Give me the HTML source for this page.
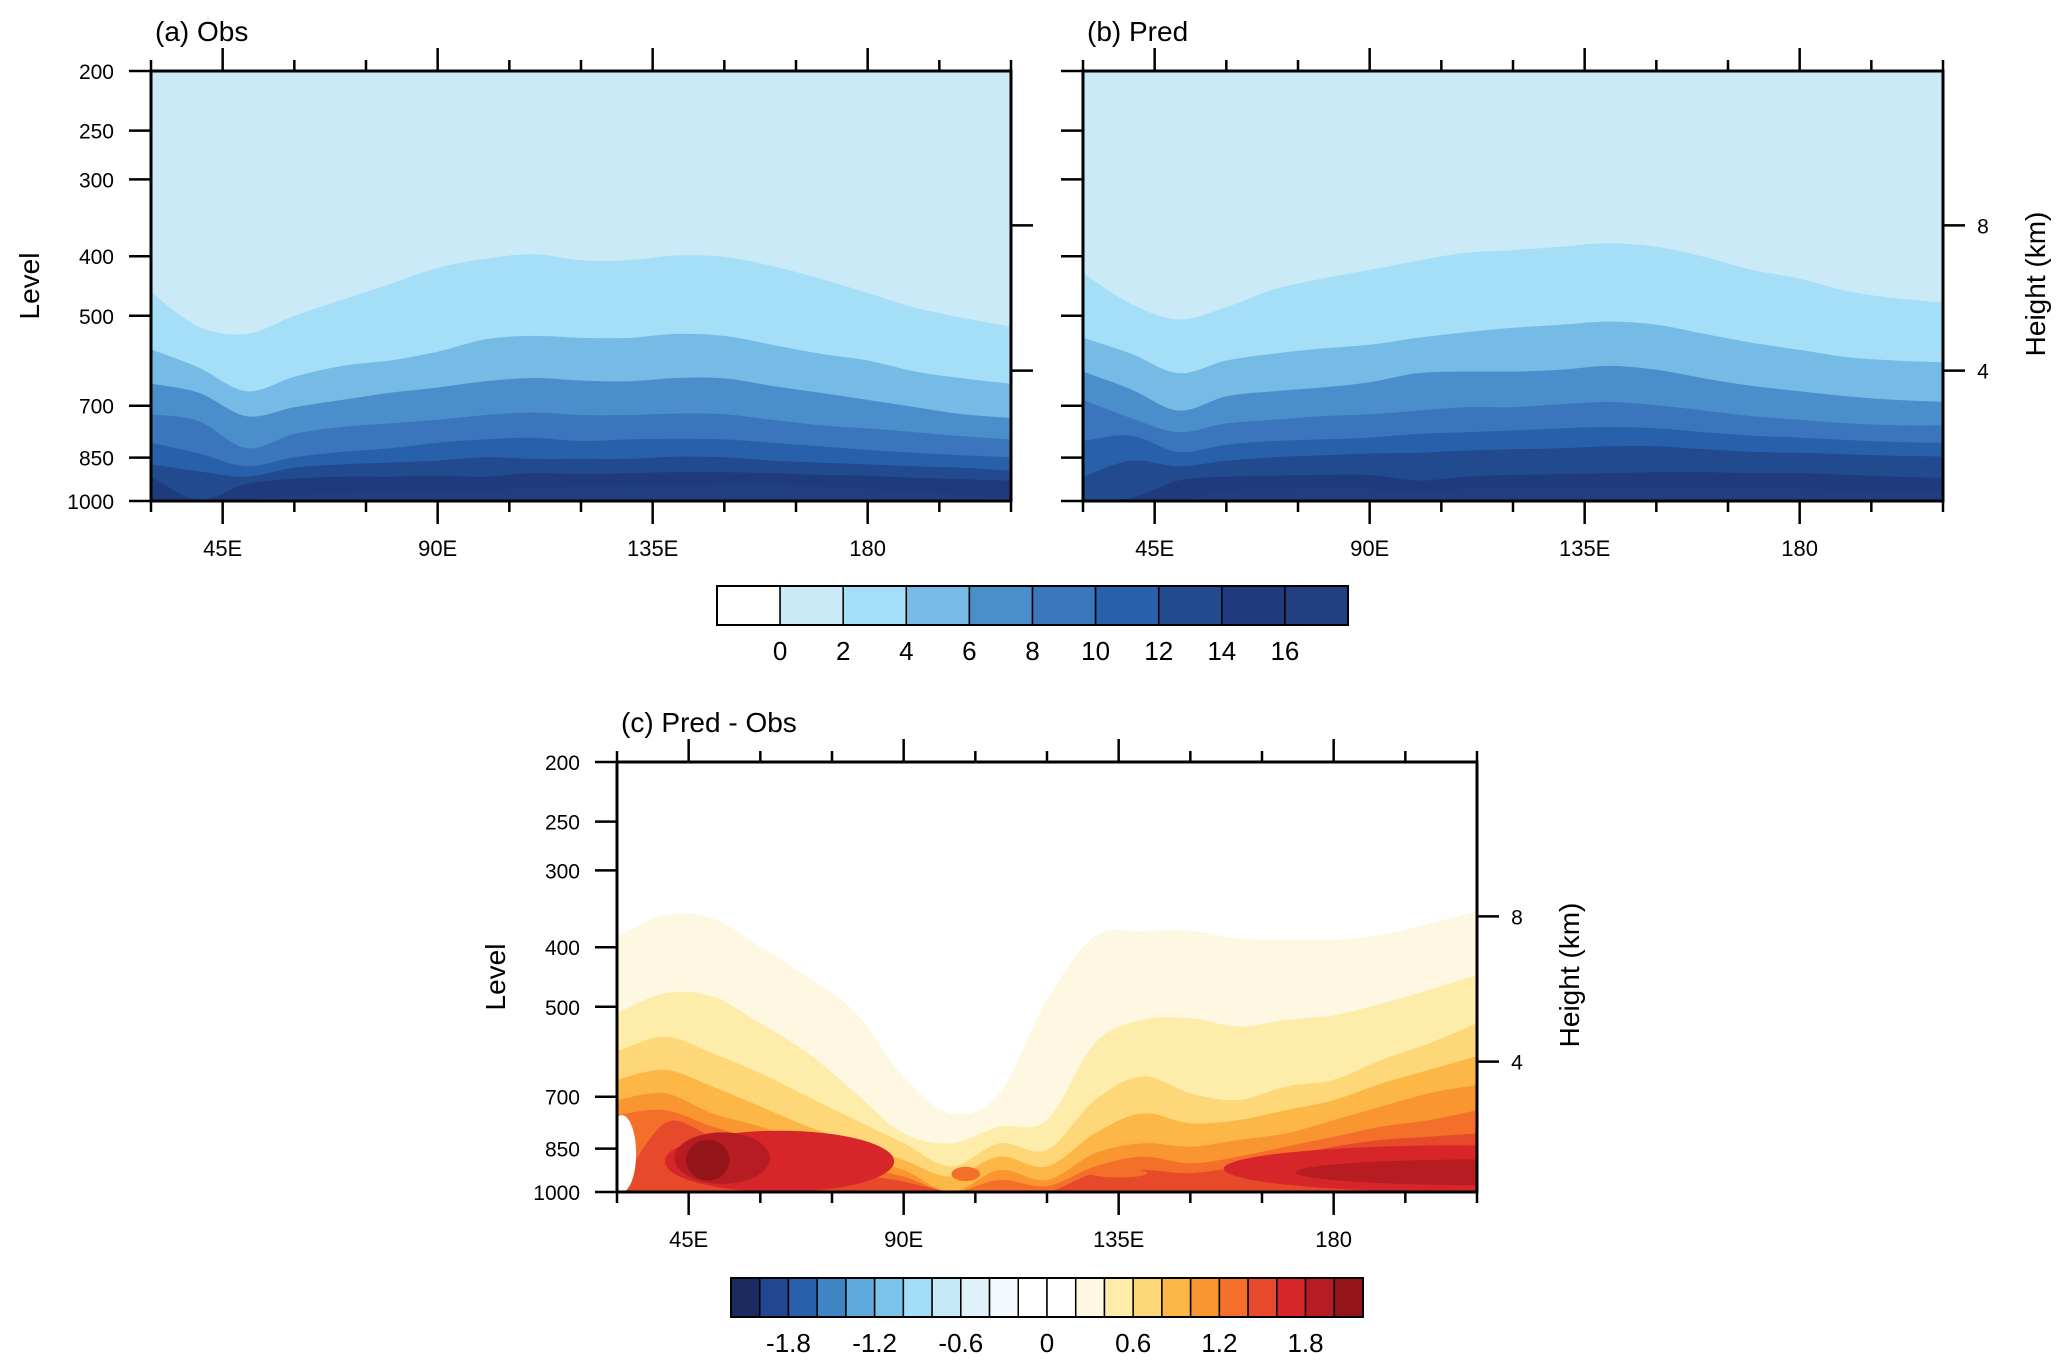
<!DOCTYPE html>
<html><head><meta charset="utf-8"><style>
html,body{margin:0;padding:0;background:#fff;}
svg{display:block;font-family:"Liberation Sans",sans-serif;}
</style></head><body>
<svg id="fig" width="2067" height="1368" viewBox="0 0 2067 1368" xmlns="http://www.w3.org/2000/svg"></svg>
<script>
// ---- data ----
const lons = [30,40,50,60,70,80,90,100,110,120,130,140,150,160,170,180,190,200,210];
const levelTicks = [200,250,300,400,500,700,850,1000];
const lonTicks = [45,90,135,180];
const lonTickLabels = ['45E','90E','135E','180'];
const heightTickPressures = [356.5, 614];
const heightTickLabels = ['8','4'];
// panel a (Obs): pressure (hPa) of each contour boundary
const obsB2  = [458,521,535,500,471,444,418,404,397,406,406,399,401,415,435,459,485,504,521];
const obsB4  = [567,607,663,628,603,591,572,546,539,543,543,535,539,557,576,591,616,632,645];
const obsB6  = [645,667,728,704,685,667,654,639,631,637,639,631,632,650,667,685,704,723,733];
const obsB8  = [723,742,821,778,758,748,738,725,718,725,725,721,723,738,753,762,773,785,794];
const obsB10 = [804,837,878,849,832,821,804,794,789,799,794,792,794,804,815,826,835,843,849];
const obsB12 = [872,895,913,883,872,866,860,849,854,854,854,847,849,860,866,872,878,883,893];
const obsB14 = [913,996,938,920,913,913,910,913,901,905,901,898,898,901,907,910,917,922,927];
const obsB16 = [1000,1000,995,980,973,970,964,960,951,947,944,947,942,942,947,955,964,980,990];
// panel b (Pred)
const predB2  = [426,478,507,484,453,435,421,407,395,391,386,381,386,401,421,435,456,468,476];
const predB4  = [543,576,620,591,576,565,557,543,532,523,517,511,517,535,553,568,584,591,595];
const predB6  = [616,658,713,676,663,654,641,620,616,616,612,603,612,632,650,663,676,685,690];
const predB8  = [685,733,773,748,738,728,723,713,704,704,696,690,699,713,728,738,748,753,753];
const predB10 = [799,783,832,810,799,794,789,778,773,768,762,758,762,773,783,789,796,802,804];
const predB12 = [913,860,878,860,849,843,837,835,828,824,821,815,815,824,832,835,840,844,847];
const predB14 = [1000,990,926,913,910,907,907,926,913,907,905,901,898,898,901,901,907,913,917];
const predB16 = [1000,1000,1000,960,956,955,955,965,955,953,952,950,950,950,952,955,958,960,962];
// panel c (Pred - Obs)
const diffB02 = [384,355,359,399,447,512,649,745,691,487,384,377,376,387,389,389,382,366,350];
const diffB04 = [512,475,481,532,595,691,803,833,783,764,573,525,522,538,525,516,494,469,444];
const diffB06 = [591,559,595,641,700,764,833,909,833,854,709,649,691,709,674,657,610,573,532];
const diffB08 = [657,633,674,726,783,833,887,944,876,909,803,745,773,764,736,709,666,633,602];
const diffB10 = [709,691,745,783,833,876,921,1000,921,956,865,833,844,823,803,764,726,691,670];
const diffB12 = [749,736,783,823,865,909,944,1000,956,978,909,876,898,876,844,813,783,764,736];
const diffB14 = [1000,773,813,854,887,932,962,1000,1000,1000,932,921,932,909,876,844,823,813,803];
// local extrema: centre lon, centre hPa, half-width deg, half-height hPa, value
const blobLon = [64,52,49,205,212,103,135,31,97];
const blobP   = [900,885,890,935,930,935,932,900,500];
const blobDLon= [24,10,4.5,48,40,3,6,3,2];
const blobDP  = [105,85,68,95,45,25,15,150,12];
const blobVal = [1.7,1.9,2.1,1.7,1.9,1.3,1.3,0.1,-0.1];
// colour bars
const cbar1Labels = ['0','2','4','6','8','10','12','14','16'];
const cbar1Colors = ['#ffffff','#cbeaf7','#a5def7','#75bbe5','#4a8fcb','#3b75bb','#2960ab','#214a8f','#1f3b7d','#213f80'];
const cbar2Colors = ['#1b2b5f','#224690','#2a5fab','#3f85c4','#5eaadb','#7bc4e9','#a4ddf7','#c6e9f8','#dff2f9','#f2fafd','#ffffff','#ffffff','#fef8e2','#feedaa','#fed778','#fdb747','#fa9630','#f36f2a','#e64a2b','#d7262a','#b61c22','#931519'];
const cbar2Labels = ['-1.8','-1.2','-0.6','0','0.6','1.2','1.8'];
const cbar2LabelEdges = [2,5,8,11,14,17,20];

// ---- drawing ----
const NS='http://www.w3.org/2000/svg';
const svg=document.getElementById('fig');
function mk(tag,attrs,parent){const e=document.createElementNS(NS,tag);for(const k in attrs)e.setAttribute(k,attrs[k]);(parent||svg).appendChild(e);return e;}
const W=860,H=430;
function xS(ox,lon){return ox+(lon-30)/180*W;}
function yS(oy,p){p=Math.min(1000,Math.max(200,p));return oy+Math.log(p/200)/Math.log(5)*H;}
function diffColor(v){let i=Math.floor((v+2.0)/0.2)+1;i=Math.max(0,Math.min(21,i));return cbar2Colors[i];}
function smoothPath(P){
  let d='M'+P[0][0].toFixed(1)+','+P[0][1].toFixed(1);
  for(let i=0;i<P.length-1;i++){
    const p0=P[Math.max(0,i-1)],p1=P[i],p2=P[i+1],p3=P[Math.min(P.length-1,i+2)];
    const c1x=p1[0]+(p2[0]-p0[0])/6,c1y=p1[1]+(p2[1]-p0[1])/6;
    const c2x=p2[0]-(p3[0]-p1[0])/6,c2y=p2[1]-(p3[1]-p1[1])/6;
    d+=' C'+c1x.toFixed(1)+','+c1y.toFixed(1)+' '+c2x.toFixed(1)+','+c2y.toFixed(1)+' '+p2[0].toFixed(1)+','+p2[1].toFixed(1);
  }
  return d;
}

function drawPanel(id,ox,oy,title,bg,layers,colors,opts){
  const g=mk('g',{});  
  const cp=mk('clipPath',{id:'clip-'+id},g); mk('rect',{x:ox,y:oy,width:W,height:H},cp);
  const plot=mk('g',{'clip-path':'url(#clip-'+id+')'},g);
   
  const bgr=mk('rect',{x:ox,y:oy,width:W,height:H,fill:bg},plot);
   
  layers.forEach((arr,k)=>{
    const P=lons.map((l,i)=>[xS(ox,l),yS(oy,arr[i])]);
    const d=smoothPath(P)+' L'+(xS(ox,210)+2)+','+(oy+H+2)+' L'+(xS(ox,30)-2)+','+(oy+H+2)+' Z';
    const pg=mk('path',{d:d,fill:colors[k]},plot);
     
  });
  if(opts.blobs){
    blobLon.forEach((l,i)=>{
      const y1=yS(oy,blobP[i]-blobDP[i]), y2=yS(oy,blobP[i]+blobDP[i]);
      const el=mk('ellipse',{cx:xS(ox,l),cy:(y1+y2)/2,rx:blobDLon[i]*W/180,ry:(y2-y1)/2,fill:diffColor(blobVal[i])},plot);
       
    });
  }
  const fr=mk('rect',{x:ox,y:oy,width:W,height:H,fill:'none',stroke:'#000','stroke-width':3},g);
   
  for(let lon=30;lon<=210;lon+=15){
    const x=xS(ox,lon), major=lonTicks.indexOf(lon)>=0;
    const len=major?23:11;
    mk('line',{x1:x,y1:oy,x2:x,y2:oy-len,stroke:'#000','stroke-width':2.5},g);
    mk('line',{x1:x,y1:oy+H,x2:x,y2:oy+H+len,stroke:'#000','stroke-width':2.5},g);
  }
  lonTicks.forEach((lon,i)=>{
    const t=mk('text',{x:xS(ox,lon),y:oy+H+55,'font-size':22,'text-anchor':'middle'},g);
    t.textContent=lonTickLabels[i];  
  });
  levelTicks.forEach(p=>{
    const y=yS(oy,p);
    mk('line',{x1:ox,y1:y,x2:ox-22,y2:y,stroke:'#000','stroke-width':2.5},g);
    if(opts.leftLabels){
      const t=mk('text',{x:ox-37,y:y+8,'font-size':21,'text-anchor':'end'},g);
      t.textContent=p;  
    }
  });
  heightTickPressures.forEach((p,i)=>{
    const y=yS(oy,p);
    mk('line',{x1:ox+W,y1:y,x2:ox+W+22,y2:y,stroke:'#000','stroke-width':2.5},g);
    if(opts.rightLabels){
      const t=mk('text',{x:ox+W+40,y:y+8,'font-size':21,'text-anchor':'middle'},g);
      t.textContent=heightTickLabels[i];  
    }
  });
  if(opts.leftLabels){
    const t=mk('text',{x:0,y:0,'font-size':28,'text-anchor':'middle',transform:'translate('+(ox-112)+','+(oy+H/2)+') rotate(-90)'},g);
    t.textContent='Level';  
  }
  if(opts.rightLabels){
    const t=mk('text',{x:0,y:0,'font-size':28,'text-anchor':'middle',transform:'translate('+(ox+W+102)+','+(oy+213)+') rotate(-90)'},g);
    t.textContent='Height (km)';  
  }
  const tt=mk('text',{x:ox+4,y:oy-30,'font-size':28},g);
  tt.textContent=title;  
}

const blueCols=cbar1Colors.slice(2);
drawPanel('obs',151,71,'(a) Obs',cbar1Colors[1],[obsB2,obsB4,obsB6,obsB8,obsB10,obsB12,obsB14,obsB16],blueCols,{leftLabels:true});
drawPanel('pred',1083,71,'(b) Pred',cbar1Colors[1],[predB2,predB4,predB6,predB8,predB10,predB12,predB14,predB16],blueCols,{rightLabels:true});
drawPanel('diff',617,762,'(c) Pred - Obs','#ffffff',[diffB02,diffB04,diffB06,diffB08,diffB10,diffB12,diffB14],cbar2Colors.slice(12,19),{leftLabels:true,rightLabels:true,blobs:true});

(function(){
  const g=mk('g',{});  
  const x0=717,x1=1348,y0=586,h=39,n=cbar1Colors.length,w=(x1-x0)/n;
  cbar1Colors.forEach((c,i)=>{
    const r=mk('rect',{x:x0+i*w,y:y0,width:w,height:h,fill:c,stroke:'#000','stroke-width':1.5},g);
     
  });
  mk('rect',{x:x0,y:y0,width:x1-x0,height:h,fill:'none',stroke:'#000','stroke-width':2},g);
  cbar1Labels.forEach((l,i)=>{
    const t=mk('text',{x:x0+(i+1)*w,y:660,'font-size':26,'text-anchor':'middle'},g);
    t.textContent=l;  
  });
})();
(function(){
  const g=mk('g',{});  
  const x0=731,x1=1363,y0=1278,h=39,n=cbar2Colors.length,w=(x1-x0)/n;
  cbar2Colors.forEach((c,i)=>{
    const r=mk('rect',{x:x0+i*w,y:y0,width:w,height:h,fill:c,stroke:'#000','stroke-width':1.5},g);
     
  });
  mk('rect',{x:x0,y:y0,width:x1-x0,height:h,fill:'none',stroke:'#000','stroke-width':2},g);
  cbar2Labels.forEach((l,i)=>{
    const t=mk('text',{x:x0+cbar2LabelEdges[i]*w,y:1352,'font-size':26,'text-anchor':'middle'},g);
    t.textContent=l;  
  });
})();
</script>
</body></html>
